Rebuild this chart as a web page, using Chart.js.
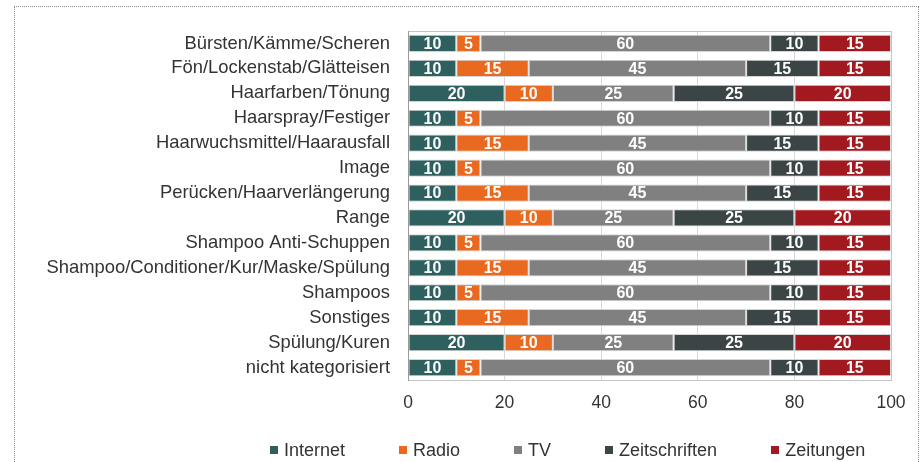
<!DOCTYPE html>
<html>
<head>
<meta charset="utf-8">
<script src="https://cdn.jsdelivr.net/npm/chart.js@4.4.1/dist/chart.umd.min.js"></script>
<style>
  html, body { margin: 0; padding: 0; background: #fff; }
  body { width: 922px; height: 462px; position: relative; overflow: hidden; font-family: "Liberation Sans", Arial, sans-serif; }
  #frame { position: absolute; left: 14px; top: 6px; width: 905px; height: 480px; border: 1px dotted #8c8c8c; box-sizing: border-box; }
  #wrap { position: absolute; left: 0; top: 0; width: 922px; height: 462px; }
  #legend { position: absolute; left: 270px; top: 440px; display: flex; gap: 54px; font-size: 18px; color: #333; line-height: 20px; }
  #legend span.item { display: flex; align-items: center; }
  #legend span.box { display: inline-block; width: 8px; height: 8px; margin-right: 6px; }
</style>
</head>
<body>
<div id="frame"></div>
<div id="wrap"><canvas id="chart"></canvas></div>
<div id="legend"></div>
<script>
const categories = [
    'Bürsten/Kämme/Scheren',
    'Fön/Lockenstab/Glätteisen',
    'Haarfarben/Tönung',
    'Haarspray/Festiger',
    'Haarwuchsmittel/Haarausfall',
    'Image',
    'Perücken/Haarverlängerung',
    'Range',
    'Shampoo Anti-Schuppen',
    'Shampoo/Conditioner/Kur/Maske/Spülung',
    'Shampoos',
    'Sonstiges',
    'Spülung/Kuren',
    'nicht kategorisiert'
];
const internet      = [10, 10, 20, 10, 10, 10, 10, 20, 10, 10, 10, 10, 20, 10];
const radio         = [5, 15, 10, 5, 15, 5, 15, 10, 5, 15, 5, 15, 10, 5];
const tv            = [60, 45, 25, 60, 45, 60, 45, 25, 60, 45, 60, 45, 25, 60];
const zeitschriften = [10, 15, 25, 10, 15, 10, 15, 25, 10, 15, 10, 15, 25, 10];
const zeitungen     = [15, 15, 20, 15, 15, 15, 15, 20, 15, 15, 15, 15, 20, 15];
const xTicks = [0, 20, 40, 60, 80, 100];

const seriesNames = ['Internet', 'Radio', 'TV', 'Zeitschriften', 'Zeitungen'];
const seriesData = [internet, radio, tv, zeitschriften, zeitungen];
const colors = ['#2f6060', '#e8691f', '#808080', '#3b4545', '#a31920'];

const FONT = '"Liberation Sans", Arial, sans-serif';

// value labels inside each segment + box around plot area
const segmentLabels = {
    id: 'segmentLabels',
    afterDatasetsDraw(chart) {
        const ctx = chart.ctx;
        const a = chart.chartArea;
        ctx.save();
        ctx.strokeStyle = '#c4c4c4';
        ctx.lineWidth = 1;
        ctx.strokeRect(Math.round(a.left) + 0.5, Math.round(a.top) + 0.5, Math.round(a.right - a.left), Math.round(a.bottom - a.top));
        ctx.strokeStyle = '#9a9a9a';
        ctx.beginPath();
        ctx.moveTo(Math.round(a.left) + 0.5, a.top);
        ctx.lineTo(Math.round(a.left) + 0.5, a.bottom + 1);
        ctx.stroke();

        ctx.fillStyle = '#ffffff';
        ctx.font = 'bold 16px ' + FONT;
        ctx.textAlign = 'center';
        ctx.textBaseline = 'middle';
        chart.data.datasets.forEach(function (ds, i) {
            const meta = chart.getDatasetMeta(i);
            meta.data.forEach(function (bar, j) {
                const p = bar.getCenterPoint();
                ctx.fillText(String(ds.data[j]), p.x, p.y + 1);
            });
        });
        ctx.restore();
    }
};

const datasets = seriesNames.map(function (name, i) {
    return {
        label: name,
        data: seriesData[i],
        backgroundColor: colors[i],
        borderColor: '#d4d4d4',
        borderWidth: 1,
        borderSkipped: false,
        barPercentage: 0.69,
        categoryPercentage: 1.0,
    };
});

const chart = new Chart(document.getElementById('chart'), {
    type: 'bar',
    data: {
        labels: categories,
        datasets: datasets,
    },
    options: {
        indexAxis: 'y',
        responsive: true,
        maintainAspectRatio: false,
        animation: false,
        layout: {
            padding: { left: 0, right: 31, top: 31, bottom: 52 }
        },
        plugins: {
            legend: { display: false },
            tooltip: { enabled: false },
        },
        scales: {
            x: {
                stacked: true,
                min: 0,
                max: 100,
                afterBuildTicks: function (scale) {
                    scale.ticks = xTicks.map(v => ({ value: v }));
                },
                afterFit: function (scale) { scale.height = 30; },
                border: { display: false },
                grid: {
                    color: '#d9d9d9',
                    drawTicks: false,
                },
                ticks: {
                    padding: 13,
                    color: '#333',
                    font: { family: FONT, size: 17.5 },
                },
            },
            y: {
                stacked: true,
                afterFit: function (scale) { scale.width = 408; },
                border: { display: false },
                grid: { display: false, drawTicks: false },
                ticks: {
                    padding: 18,
                    color: '#333',
                    autoSkip: false,
                    font: { family: FONT, size: 18.4 },
                },
            },
        },
    },
    plugins: [segmentLabels],
});

// legend built from the series names and colours
const legendEl = document.getElementById('legend');
seriesNames.forEach(function (name, i) {
    const item = document.createElement('span');
    item.className = 'item';
    const box = document.createElement('span');
    box.className = 'box';
    box.style.background = colors[i];
    item.appendChild(box);
    item.appendChild(document.createTextNode(name));
    legendEl.appendChild(item);
});
</script>
</body>
</html>
